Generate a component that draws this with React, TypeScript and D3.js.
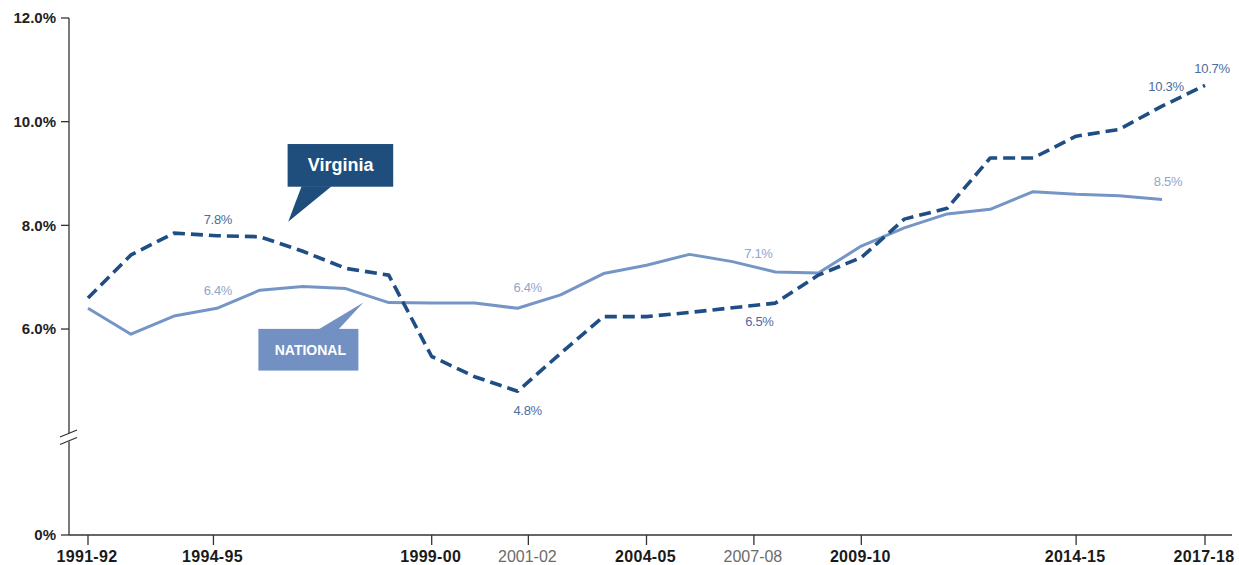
import React from "react";
import * as d3 from "d3";

// School years, identified by their starting calendar year (1991 = "1991-92")
const startYears: number[] = d3.range(1991, 2018);

// Share of students, in percent, by school year
const virginiaRates: number[] = [
  6.6, 7.43, 7.85, 7.8, 7.78, 7.5, 7.17, 7.04, 5.47, 5.08, 4.8, 5.53, 6.24, 6.24,
  6.32, 6.41, 6.5, 7.04, 7.38, 8.12, 8.33, 9.3, 9.3, 9.72, 9.85, 10.3, 10.7,
];
const nationalRates: number[] = [
  6.4, 5.9, 6.25, 6.4, 6.75, 6.82, 6.78, 6.51, 6.5, 6.5, 6.4, 6.66, 7.07, 7.23,
  7.44, 7.3, 7.1, 7.08, 7.6, 7.95, 8.22, 8.31, 8.65, 8.6, 8.57, 8.5,
];

// Axis ticks
const yTickValues: number[] = [0, 6, 8, 10, 12];
const xTickLabels: string[] = [
  "1991-92", "1994-95", "1999-00", "2001-02", "2004-05", "2007-08", "2009-10", "2014-15", "2017-18",
];
const xTickAt: number[] = [1991, 1993.92, 1999, 2001.25, 2004, 2006.5, 2009, 2014, 2017];
const xTickMuted: boolean[] = [false, false, false, true, false, true, false, false, false];

// Value callouts: which series, which year, and text offset from the point
const labelSeries: ("va" | "us")[] = ["va", "us", "us", "va", "us", "va", "va", "va", "us"];
const labelYears: number[] = [1994, 1994, 2001, 2001, 2007, 2007, 2016, 2017, 2016];
const labelDx: number[] = [1, 1, 10, 10, -17, -16, 4, 7, 6];
const labelDy: number[] = [-12, -13, -16, 24, -14, 23, -15, -12, -13];

const W = 1239;
const H = 565;
const VA_LINE = "#1f4e85";
const VA_BOX = "#1f4e7d";
const US_LINE = "#7595c6";
const US_BOX = "#7291c2";
const VA_TEXT = "#4d6c9e";
const US_TEXT = "#8fa6cc";
const AXIS = "#333333";
const FONT = "'Liberation Sans', Arial, sans-serif";

export default function App() {
  const x = d3.scaleLinear().domain([1991, 2017]).range([88, 1205]);
  // broken axis: 0..4% is compressed below the break
  const y = d3.scaleLinear().domain([0, 4, 12]).range([535, 432.7, 18]);

  const line = d3
    .line<[number, number]>()
    .x((d) => x(d[0]))
    .y((d) => y(d[1]));

  const vaPts: [number, number][] = virginiaRates.map((v, i) => [startYears[i], v]);
  const usPts: [number, number][] = nationalRates.map((v, i) => [startYears[i], v]);

  const axisX0 = 69;
  const axisX1 = 1232;
  const axisY = y(0);
  const breakY = 437;

  // Callout tips in data space
  const vaTip = { x: x(1995.66), y: y(8.07) };
  const usTip = { x: x(1997.41), y: y(6.51) };

  return (
    <svg
      width={W}
      height={H}
      style={{ position: "absolute", left: 0, top: 0, background: "#fff" }}
      fontFamily={FONT}
    >
      <rect width={W} height={H} fill="#fff" />

      {/* lines */}
      <path d={line(usPts) || ""} fill="none" stroke={US_LINE} strokeWidth={3} strokeLinejoin="round" />
      <path
        d={line(vaPts) || ""}
        fill="none"
        stroke={VA_LINE}
        strokeWidth={3.6}
        strokeDasharray="12 6"
        strokeLinejoin="round"
      />

      {/* axes */}
      <line x1={axisX0} x2={axisX0} y1={y(12)} y2={axisY} stroke={AXIS} strokeWidth={1.3} />
      <line x1={axisX0} x2={axisX1} y1={axisY} y2={axisY} stroke={AXIS} strokeWidth={1.3} />
      {yTickValues.map((v) => (
        <g key={v}>
          <line x1={axisX0 - 8} x2={axisX0} y1={y(v)} y2={y(v)} stroke={AXIS} strokeWidth={1.3} />
          <text
            x={56}
            y={y(v)}
            dy="0.35em"
            textAnchor="end"
            fontSize={15}
            fontWeight="bold"
            fill="#222"
          >
            {v === 0 ? "0%" : `${v.toFixed(1)}%`}
          </text>
        </g>
      ))}
      {xTickLabels.map((lab, i) => (
        <g key={lab}>
          <line x1={x(xTickAt[i])} x2={x(xTickAt[i])} y1={axisY} y2={axisY + 10} stroke={AXIS} strokeWidth={1.3} />
          <text
            x={x(xTickAt[i]) - 1}
            y={562}
            textAnchor="middle"
            fontSize={16}
            fontWeight={xTickMuted[i] ? "normal" : "bold"}
            fill={xTickMuted[i] ? "#6b6b6b" : "#1a1a1a"}
            letterSpacing={xTickMuted[i] ? 0 : 0.3}
          >
            {lab}
          </text>
        </g>
      ))}

      {/* axis break */}
      <polygon
        points={`60,${breakY + 0.5} 78,${breakY - 7.5} 78,${breakY + 0.5} 60,${breakY + 8.5}`}
        fill="#fff"
      />
      <line x1={60} y1={breakY} x2={77} y2={breakY - 7} stroke={AXIS} strokeWidth={1.3} />
      <line x1={60} y1={breakY + 7.5} x2={77} y2={breakY + 0.5} stroke={AXIS} strokeWidth={1.3} />

      {/* value labels */}
      {labelYears.map((yr, i) => {
        const isVa = labelSeries[i] === "va";
        const vals = isVa ? virginiaRates : nationalRates;
        const v = vals[yr - 1991];
        return (
          <text
            key={i}
            x={x(yr) + labelDx[i]}
            y={y(v) + labelDy[i]}
            textAnchor="middle"
            fontSize={13}
            fill={isVa ? VA_TEXT : US_TEXT}
            letterSpacing={-0.3}
          >
            {`${v.toFixed(1)}%`}
          </text>
        );
      })}

      {/* Virginia callout */}
      <g>
        <rect x={vaTip.x - 0.6} y={vaTip.y - 77.7} width={105.6} height={42.7} fill={VA_BOX} />
        <polygon
          points={`${vaTip.x + 13.4},${vaTip.y - 35.5} ${vaTip.x + 43.4},${vaTip.y - 35.5} ${vaTip.x},${vaTip.y}`}
          fill={VA_BOX}
        />
        <text
          x={vaTip.x + 52.5}
          y={vaTip.y - 50.5}
          textAnchor="middle"
          fontSize={18}
          fontWeight="bold"
          fill="#fff"
        >
          Virginia
        </text>
      </g>

      {/* National callout */}
      <g>
        <rect x={usTip.x - 105} y={usTip.y + 26.3} width={100} height={41.7} fill={US_BOX} />
        <polygon
          points={`${usTip.x - 45},${usTip.y + 26.8} ${usTip.x - 25},${usTip.y + 26.8} ${usTip.x},${usTip.y}`}
          fill={US_BOX}
        />
        <text
          x={usTip.x - 53}
          y={usTip.y + 52.5}
          textAnchor="middle"
          fontSize={14}
          fontWeight="bold"
          fill="#fff"
        >
          NATIONAL
        </text>
      </g>
    </svg>
  );
}
